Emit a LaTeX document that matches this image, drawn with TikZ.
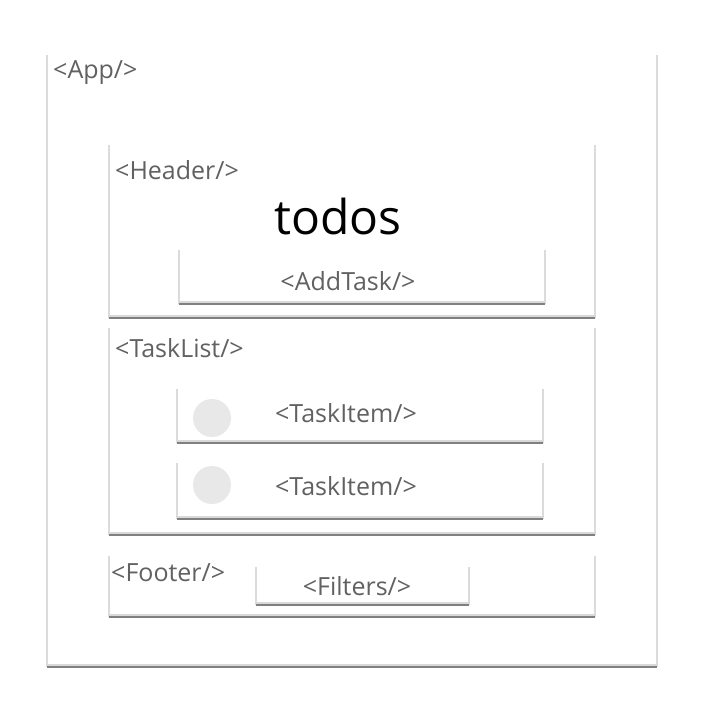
\documentclass[tikz,border=0pt]{standalone}
\usepackage{fontspec}
\setmainfont{Open Sans}
\begin{document}
\begin{tikzpicture}[x=1pt,y=-1pt,
  box/.style={rectangle,fill=white,inner sep=0pt,outer sep=0pt,anchor=north west},
  side/.style={draw=black!14,line width=1.5pt},
  bottomshadow/.style={draw=black!50,line width=2pt},
  bottomglow/.style={draw=black!15,line width=2pt},
  lbl/.style={text=black!62,font=\fontsize{25}{29}\selectfont,inner sep=0pt},
  circ/.style={circle,fill=black!9,minimum size=38pt,inner sep=0pt}]
\useasboundingbox[fill=white] (0,0) rectangle (703,716);
% boxes
\node[box,minimum width=610pt,minimum height=612pt] (app) at (47,55) {};
\node[box,minimum width=486pt,minimum height=173pt] (header) at (109,145) {};
\node[box,minimum width=366pt,minimum height=54pt] (addtask) at (179,250) {};
\node[box,minimum width=486pt,minimum height=207pt] (tasklist) at (109,328) {};
\node[box,minimum width=366pt,minimum height=54pt] (item1) at (177,389) {};
\node[box,minimum width=366pt,minimum height=56pt] (item2) at (177,463) {};
\node[box,minimum width=486pt,minimum height=61pt] (footer) at (109,556) {};
\node[box,minimum width=213pt,minimum height=38pt] (filters) at (256,567) {};
% edges / shadows
\foreach \n in {app,header,addtask,tasklist,item1,item2,footer,filters}{
  \draw[side] (\n.north west) -- (\n.south west);
  \draw[side] (\n.north east) -- (\n.south east);
  \draw[bottomglow] ([yshift=2.5pt]\n.south west) -- ([yshift=2.5pt]\n.south east);
  \draw[bottomshadow] (\n.south west) -- (\n.south east);
}
% circles
\node[circ] (c1) at (212,418) {};
\node[circ] (c2) at (212,485) {};
% labels
\node[lbl,anchor=west] (tapp) at (53,73) {<App/>};
\node[lbl,anchor=west] (theader) at (115,170) {<Header/>};
\node[font=\fontsize{48}{54}\selectfont,text=black,inner sep=0pt] (ttodos) at (338,216) {todos};
\node[lbl] (taddtask) at (348,281) {<AddTask/>};
\node[lbl,anchor=west] (ttasklist) at (115,348) {<TaskList/>};
\node[lbl] (titem1) at (346,413) {<TaskItem/>};
\node[lbl] (titem2) at (346,486) {<TaskItem/>};
\node[lbl,anchor=west] (tfooter) at (111,573) {<Footer/>};
\node[lbl] (tfilters) at (357,586) {<Filters/>};
\end{tikzpicture}
\end{document}
